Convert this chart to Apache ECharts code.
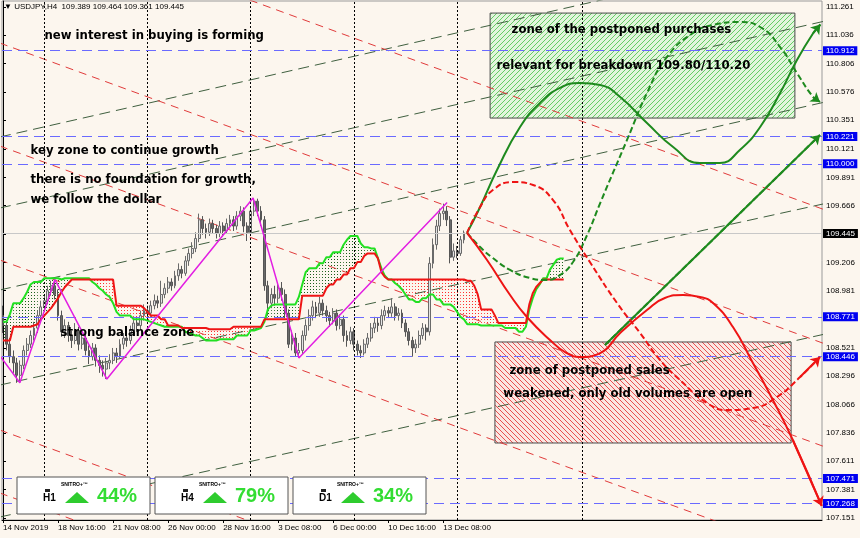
<!DOCTYPE html>
<html><head><meta charset="utf-8">
<script src="https://cdn.jsdelivr.net/npm/echarts@6/dist/echarts.min.js"></script>
<style>html,body{margin:0;padding:0;background:#fcf6ee}#c{width:860px;height:538px}</style>
</head><body><div id="c"></div>
<script>
// ---------- data ----------
const timeTickBars = [0,16,32,48,64,80,96,112,128];
const timeLabels = ['14 Nov 2019','18 Nov 16:00','21 Nov 08:00','26 Nov 00:00','28 Nov 16:00','3 Dec 08:00','6 Dec 00:00','10 Dec 16:00','13 Dec 08:00'];
const priceTicks = [111.261,111.036,110.806,110.576,110.351,110.121,109.891,109.666,109.436,109.206,108.981,108.751,108.521,108.296,108.066,107.836,107.611,107.381,107.151];
// [open, close, low, high], one H4 bar per row
const candles = [
[108.78,108.70,108.64,108.86],[108.70,108.55,108.50,108.74],[108.55,108.45,108.40,108.60],[108.45,108.40,108.32,108.50],[108.40,108.30,108.24,108.44],
[108.30,108.38,108.26,108.42],[108.38,108.50,108.35,108.54],[108.50,108.55,108.46,108.60],[108.55,108.62,108.52,108.66],[108.62,108.68,108.58,108.73],
[108.68,108.78,108.64,108.82],[108.78,108.85,108.74,108.90],[108.85,108.90,108.82,108.95],[108.90,108.98,108.87,109.02],[108.98,109.02,108.94,109.06],
[109.02,108.95,108.91,109.07],[108.95,108.78,108.74,108.99],[108.78,108.65,108.61,108.82],[108.65,108.70,108.60,108.75],[108.70,108.62,108.57,108.73],
[108.62,108.58,108.52,108.66],[108.58,108.66,108.55,108.72],[108.66,108.55,108.50,108.69],[108.55,108.60,108.51,108.64],[108.60,108.50,108.46,108.63],
[108.50,108.45,108.39,108.54],[108.45,108.52,108.42,108.56],[108.52,108.42,108.37,108.55],[108.42,108.38,108.32,108.46],[108.38,108.35,108.29,108.42],
[108.35,108.40,108.27,108.44],[108.40,108.42,108.35,108.47],[108.42,108.48,108.39,108.52],[108.48,108.45,108.40,108.52],[108.45,108.55,108.43,108.59],
[108.55,108.60,108.51,108.64],[108.60,108.58,108.53,108.63],[108.58,108.66,108.55,108.70],[108.66,108.72,108.63,108.77],[108.72,108.70,108.65,108.76],
[108.70,108.78,108.67,108.82],[108.78,108.82,108.74,108.87],[108.82,108.80,108.76,108.86],[108.80,108.86,108.77,108.90],[108.86,108.90,108.83,108.95],
[108.90,108.88,108.84,108.94],[108.88,108.95,108.85,109.06],[108.95,109.00,108.92,109.04],[109.00,109.05,108.96,109.09],[109.05,109.02,108.98,109.08],
[109.02,109.10,109.00,109.14],[109.10,109.15,109.06,109.20],[109.15,109.12,109.08,109.18],[109.12,109.22,109.10,109.26],[109.22,109.28,109.18,109.32],
[109.28,109.32,109.24,109.37],[109.32,109.40,109.29,109.45],[109.40,109.55,109.37,109.60],[109.55,109.48,109.43,109.58],[109.48,109.45,109.40,109.52],
[109.45,109.52,109.42,109.56],[109.52,109.48,109.44,109.55],[109.48,109.44,109.40,109.51],[109.44,109.50,109.41,109.54],[109.50,109.46,109.42,109.53],
[109.46,109.52,109.44,109.56],[109.52,109.55,109.48,109.59],[109.55,109.50,109.46,109.58],[109.50,109.58,109.47,109.62],[109.58,109.62,109.54,109.66],
[109.62,109.50,109.45,109.65],[109.50,109.45,109.38,109.53],[109.45,109.62,109.42,109.66],[109.62,109.70,109.58,109.725],[109.70,109.62,109.58,109.72],
[109.62,109.55,109.50,109.66],[109.55,109.02,108.98,109.58],[109.02,108.88,108.78,109.06],[108.88,108.95,108.84,109.00],[108.95,108.92,108.86,109.02],
[108.92,109.00,108.88,109.04],[109.00,108.95,108.90,109.05],[108.95,108.80,108.76,108.99],[108.80,108.55,108.52,108.83],[108.55,108.60,108.50,108.66],
[108.60,108.48,108.45,108.64],[108.48,108.50,108.44,108.56],[108.50,108.62,108.47,108.66],[108.62,108.70,108.58,108.75],[108.70,108.78,108.66,108.83],
[108.78,108.85,108.74,108.90],[108.85,108.80,108.76,108.89],[108.80,108.88,108.77,108.93],[108.88,108.82,108.78,108.91],[108.82,108.78,108.73,108.86],
[108.78,108.74,108.69,108.81],[108.74,108.80,108.71,108.84],[108.80,108.70,108.66,108.83],[108.70,108.75,108.67,108.79],[108.75,108.62,108.57,108.78],
[108.62,108.58,108.53,108.66],[108.58,108.65,108.55,108.69],[108.65,108.55,108.50,108.68],[108.55,108.50,108.46,108.58],[108.50,108.48,108.44,108.54],
[108.48,108.55,108.46,108.59],[108.55,108.60,108.52,108.64],[108.60,108.68,108.57,108.72],[108.68,108.72,108.64,108.77],[108.72,108.70,108.65,108.76],
[108.70,108.78,108.67,108.83],[108.78,108.82,108.74,108.86],[108.82,108.80,108.76,108.85],[108.80,108.85,108.77,108.92],[108.85,108.78,108.74,108.88],
[108.78,108.80,108.74,108.84],[108.80,108.72,108.68,108.83],[108.72,108.65,108.61,108.75],[108.65,108.58,108.54,108.68],[108.58,108.52,108.45,108.61],
[108.52,108.55,108.48,108.59],[108.55,108.62,108.52,108.66],[108.62,108.68,108.59,108.72],[108.68,108.65,108.58,108.71],[108.65,109.20,108.62,109.25],
[109.20,109.35,109.16,109.40],[109.35,109.50,109.31,109.55],[109.50,109.60,109.46,109.64],[109.60,109.62,109.55,109.68],[109.62,109.55,109.50,109.66],
[109.55,109.25,109.20,109.58],[109.25,109.30,109.22,109.36],[109.30,109.28,109.24,109.34],[109.28,109.39,109.26,109.42],[109.389,109.445,109.361,109.464]
];
// cloud spans, one value per bar (extend 26+ bars ahead)
const spanA = [
108.73,108.73,108.79,108.88,108.88,108.88,108.92,108.97,109.03,109.05,
109.05,109.05,109.08,109.08,109.08,109.08,109.08,109.07,109.08,109.08,
109.08,109.08,109.08,109.08,109.08,109.08,109.05,109.03,109.00,108.98,
108.95,108.93,108.88,108.81,108.78,108.78,108.78,108.78,108.75,108.75,
108.75,108.75,108.74,108.73,108.72,108.71,108.70,108.69,108.69,108.69,
108.69,108.69,108.69,108.65,108.64,108.63,108.62,108.62,108.60,108.58,
108.58,108.58,108.58,108.59,108.59,108.59,108.59,108.59,108.62,108.62,
108.62,108.62,108.66,108.66,108.67,108.68,108.73,108.83,108.86,108.87,
108.87,108.87,108.87,108.87,108.87,108.87,108.93,109.03,109.13,109.16,
109.16,109.16,109.20,109.20,109.25,109.25,109.29,109.29,109.29,109.35,
109.39,109.42,109.42,109.42,109.36,109.33,109.33,109.32,109.32,109.24,
109.16,109.10,109.07,109.07,109.04,109.02,108.99,108.95,108.91,108.91,
108.89,108.89,108.92,108.92,108.95,108.95,108.91,108.91,108.87,108.87,
108.87,108.85,108.81,108.77,108.75,108.71,108.71,108.71,108.71,108.70,
108.70,108.70,108.70,108.70,108.70,108.70,108.68,108.68,108.68,108.68,
108.65,108.65,108.69,108.83,108.92,108.99,109.03,109.08,109.08,109.15,
109.19,109.23,109.24,109.24];
const spanB = [
108.58,108.58,108.58,108.69,108.69,108.69,108.69,108.69,108.69,108.70,
108.71,108.75,108.78,108.81,108.84,108.88,108.92,108.97,109.01,109.04,
109.07,109.07,109.07,109.07,109.07,109.07,109.07,109.07,109.07,109.07,
109.07,109.07,109.07,108.86,108.86,108.86,108.86,108.86,108.86,108.86,
108.86,108.84,108.81,108.78,108.78,108.78,108.75,108.75,108.70,108.70,
108.70,108.70,108.68,108.68,108.68,108.68,108.68,108.68,108.68,108.68,
108.67,108.67,108.67,108.67,108.67,108.67,108.67,108.69,108.69,108.69,
108.69,108.69,108.69,108.69,108.69,108.69,108.75,108.75,108.75,108.75,
108.75,108.75,108.75,108.75,108.75,108.75,108.75,108.94,108.94,108.94,
108.94,108.94,108.94,108.94,109.00,109.03,109.03,109.07,109.07,109.11,
109.11,109.16,109.16,109.21,109.21,109.26,109.28,109.28,109.28,109.24,
109.13,109.09,109.07,109.07,109.07,109.07,109.07,109.07,109.07,109.07,
109.07,109.07,109.07,109.07,109.07,109.07,109.07,109.07,109.07,109.07,
109.07,109.07,109.07,109.07,109.07,109.06,109.06,109.02,108.95,108.83,
108.83,108.83,108.83,108.78,108.72,108.72,108.72,108.72,108.72,108.72,
108.72,108.72,108.72,108.87,108.96,109.01,109.04,109.07,109.07,109.07,
109.07,109.07,109.07,109.07];
const zigzag = [[-1,108.46],[4.9,108.24],[15.1,109.07],[30.2,108.27],[72.7,109.725],[86.0,108.44],[129.1,109.69]];
const levelLines = [110.912,110.221,110.000,108.771,108.446,107.471,107.268];
const lastPrice = 109.445;
const weekSeparators = [12,42,72,102,132];
const markerBar = 168.3;
const riseLines = [
 [[-0.9,110.216],[239,111.727]],[[-0.9,109.645],[239,111.148]],[[-0.9,108.986],[239,110.497]],
 [[-0.9,108.222],[239,109.681]],[[-0.9,107.161],[239,108.632]]];
const fallLines = [
 [[-0.9,112.049],[239,109.629]],[[-0.9,110.971],[239,108.552]],[[-0.9,110.143],[239,107.724]],
 [[-0.9,109.227],[239,106.807]],[[-0.9,107.860],[239,105.441]],[[-0.9,107.354],[239,104.934]]];
const fcGreenSolid = [[134.9,109.445],[138.7,109.653],[143.6,109.950],[150.3,110.296],[156.1,110.489],[161.9,110.610],[167.7,110.650],[173.6,110.634],[179.4,110.537],[187.2,110.328],[194.8,110.135],[202.6,110.007],[208.4,110.007],[214.2,110.111],[220.1,110.296],[225.9,110.569],[230.8,110.835],[235.5,111.05],[237.6,111.12]];
const fcRedSolid = [[134.9,109.445],[140.7,109.227],[147.4,108.946],[152.3,108.769],[159.0,108.584],[163.4,108.487],[167.7,108.447],[173.6,108.479],[179.4,108.640],[187.2,108.825],[192.4,108.922],[197.7,108.946],[202.6,108.930],[206.4,108.881],[212.2,108.688],[218.0,108.399],[223.8,108.102],[229.6,107.780],[238.0,107.25]];
const fcRedDashed = [[134.9,109.445],[138.7,109.653],[142.4,109.790],[148.3,109.854],[154.1,109.830],[159.9,109.709],[164.8,109.468],[170.6,109.211],[178.5,108.881],[185.2,108.640],[191.0,108.423],[196.8,108.262],[204.7,108.077],[210.5,108.021],[218.0,108.037],[225.0,108.126],[231.7,108.286],[237.5,108.447]];
const fcGreenDashed = [[134.9,109.445],[138.7,109.331],[142.4,109.243],[147.4,109.147],[153.2,109.082],[157.6,109.066],[161.9,109.106],[165.7,109.211],[169.8,109.428],[173.6,109.685],[181.4,110.192],[187.2,110.569],[193.0,110.859],[200.6,111.052],[206.4,111.116],[214.2,111.140],[220.1,111.100],[225.9,110.939],[230.8,110.730],[235.5,110.537],[237.5,110.497]];
const fcGreenStraight = [[175.0,108.544],[237.5,110.232]];
const buyZone = [[141.6,111.212],[230.2,110.368]];
const sellZone = [[143.0,108.568],[229.1,107.756]];
const notes = [
 [11.9,111.028,'new interest in buying is forming'],
 [7.85,110.103,'key zone to continue growth'],
 [7.85,109.870,'there is no foundation for growth,'],
 [7.85,109.709,'we follow the dollar'],
 [16.6,108.640,'strong balance zone'],
 [147.7,111.076,'zone of the postponed purchases'],
 [143.3,110.786,'relevant for breakdown 109.80/110.20'],
 [147.1,108.335,'zone of postponed sales'],
 [145.3,108.150,'weakened, only old volumes are open']];
const panelTF = ['H1','H4','D1'];
const panelPct = ['44%','79%','34%'];
const headerText = '\u25BC USDJPY,H4  109.389 109.464 109.361 109.445';

// ---------- helpers ----------
function dots(color){const c=document.createElement('canvas');c.width=3;c.height=3;const x=c.getContext('2d');x.fillStyle=color;x.fillRect(1,1,1,1);return c;}
function hatch(bg,fg,dir){const s=5,c=document.createElement('canvas');c.width=s;c.height=s;const x=c.getContext('2d');x.fillStyle=bg;x.fillRect(0,0,s,s);x.strokeStyle=fg;x.lineWidth=1;x.beginPath();
 if(dir>0){x.moveTo(0,s);x.lineTo(s,0);x.moveTo(-1,1);x.lineTo(1,-1);x.moveTo(s-1,s+1);x.lineTo(s+1,s-1);}
 else{x.moveTo(0,0);x.lineTo(s,s);x.moveTo(s-1,-1);x.lineTo(s+1,1);x.moveTo(-1,s-1);x.lineTo(1,s+1);}
 x.stroke();return c;}
const greenDots = {image:dots('#1a5e1a'),repeat:'repeat'};
const redDots = {image:dots('#ff2a2a'),repeat:'repeat'};

// segments of the cloud: [i, a0, b0, a1, b1]
const cloudSegs = spanA.slice(0,-1).map((a,i)=>[i,a,spanB[i],spanA[i+1],spanB[i+1]]);
function renderCloud(params, api){
 const i=api.value(0),a0=api.value(1),b0=api.value(2),a1=api.value(3),b1=api.value(4);
 const d0=a0-b0,d1=a1-b1;
 const P=(x,y)=>api.coord([x,y]);
 const polys=[];
 if(d0*d1>=0){
  if(d0===0&&d1===0) return null;
  polys.push({pts:[P(i,a0),P(i+1,a1),P(i+1,b1),P(i,b0)],up:(d0+d1)>0});
 } else {
  const t=d0/(d0-d1), xc=i+t, yc=a0+(a1-a0)*t;
  polys.push({pts:[P(i,a0),P(xc,yc),P(i,b0)],up:d0>0});
  polys.push({pts:[P(xc,yc),P(i+1,a1),P(i+1,b1)],up:d1>0});
 }
 return {type:'group',children:polys.map(p=>({type:'polygon',shape:{points:p.pts},style:{fill:p.up?greenDots:redDots,stroke:null}}))};
}
const candleRows = candles.map((d,i)=>[i,d[0],d[1],d[2],d[3]]);

const AX = {fontFamily:'Liberation Sans',fontSize:8,color:'#000'};
function arrowML(pts,color){const n=pts.length;return {silent:true,symbol:['none','arrow'],symbolSize:9,label:{show:false},
 lineStyle:{color:color,width:2,type:'solid'},emphasis:{disabled:true},data:[[{coord:pts[n-2]},{coord:pts[n-1]}]]};}

const series = [];
series.push({type:'custom',data:cloudSegs,renderItem:renderCloud,silent:true,clip:true,z:1});
// zones
series.push({type:'line',data:[],silent:true,z:1,markArea:{silent:true,data:[
 [{coord:buyZone[0],itemStyle:{color:{image:hatch('#e2f5dc','#66cc66',1),repeat:'repeat'},borderColor:'#4a4a4a',borderWidth:1}},{coord:buyZone[1]}],
 [{coord:sellZone[0],itemStyle:{color:{image:hatch('#fbe7e2','#e85050',-1),repeat:'repeat'},borderColor:'#4a4a4a',borderWidth:1}},{coord:sellZone[1]}]
]}});
riseLines.forEach(l=>series.push({type:'line',data:l,symbol:'none',silent:true,z:2,lineStyle:{color:'#3f5f3f',width:1,type:[11,6]}}));
fallLines.forEach(l=>series.push({type:'line',data:l,symbol:'none',silent:true,z:2,lineStyle:{color:'#e03a3a',width:1,type:[8,6]}}));
// horizontal & vertical lines
series.push({type:'line',data:[[0,lastPrice]],symbol:'none',lineStyle:{opacity:0},silent:true,z:3,
 markLine:{silent:true,symbol:'none',animation:false,data:[
  ...weekSeparators.map(v=>({xAxis:v,lineStyle:{color:'#000',width:1,type:[2,2]},label:{show:false}})),
  {xAxis:markerBar,lineStyle:{color:'#000',width:1,type:[2,2]},label:{show:false}},
  {yAxis:lastPrice,lineStyle:{color:'#c8c8c8',width:1,type:'solid'},label:{show:true,position:'end',distance:1,formatter:()=>lastPrice.toFixed(3),backgroundColor:'#000',color:'#fff',padding:[1,3,0,3],fontFamily:'Liberation Sans',fontSize:8}},
  ...levelLines.map(v=>({yAxis:v,lineStyle:{color:'#6a6aff',width:1,type:[10,6]},label:{show:true,position:'end',distance:1,formatter:()=>v.toFixed(3),backgroundColor:'#0000f0',color:'#fff',padding:[1,3,0,3],fontFamily:'Liberation Sans',fontSize:8}}))
 ]}});
series.push({type:'candlestick',data:candleRows,encode:{x:0,y:[1,2,3,4]},barWidth:2.4,silent:true,z:4,
 itemStyle:{color:'#e4e4e4',color0:'#6a6a6a',borderColor:'#6a6a6a',borderColor0:'#555',borderWidth:1}});
series.push({type:'line',data:spanA.map((v,i)=>[i,v]),symbol:'none',silent:true,z:5,lineStyle:{color:'#22e022',width:2}});
series.push({type:'line',data:spanB.map((v,i)=>[i,v]),symbol:'none',silent:true,z:5,lineStyle:{color:'#ee1515',width:2}});
series.push({type:'line',data:zigzag,symbol:'none',silent:true,z:6,lineStyle:{color:'#e21ee2',width:1.5}});
// forecasts
series.push({type:'line',data:fcGreenSolid,smooth:0.5,symbol:'none',silent:true,z:7,lineStyle:{color:'#1e8a1e',width:2},markLine:arrowML(fcGreenSolid,'#1e8a1e')});
series.push({type:'line',data:fcGreenDashed,smooth:0.5,symbol:'none',silent:true,z:7,lineStyle:{color:'#1e8a1e',width:2,type:[6,3]},markLine:arrowML(fcGreenDashed,'#1e8a1e')});
series.push({type:'line',data:fcGreenStraight,symbol:'none',silent:true,z:7,lineStyle:{color:'#1e8a1e',width:2,type:[6,3]},markLine:arrowML(fcGreenStraight,'#1e8a1e')});
series.push({type:'line',data:fcRedSolid,smooth:0.5,symbol:'none',silent:true,z:7,lineStyle:{color:'#ee1414',width:2},markLine:arrowML(fcRedSolid,'#ee1414')});
series.push({type:'line',data:fcRedDashed,smooth:0.5,symbol:'none',silent:true,z:7,lineStyle:{color:'#ee1414',width:2,type:[6,3]},markLine:arrowML(fcRedDashed,'#ee1414')});
// notes
series.push({type:'scatter',data:notes.map(n=>({value:[n[0],n[1]],name:n[2]})),symbolSize:1,itemStyle:{color:'rgba(0,0,0,0)'},silent:true,z:10,
 label:{show:true,position:'right',distance:0,formatter:p=>p.name,fontFamily:'DejaVu Sans',fontWeight:'bold',fontSize:11.7,color:'#000',opacity:1}});

// header + bottom indicator panels
const graphics = [{type:'text',left:4,top:3,style:{text:headerText,fontFamily:'Liberation Sans',fontSize:8,fill:'#000'}}];
const panelLeft = [17,155,293];
panelLeft.forEach((x0,k)=>{
 graphics.push({type:'rect',shape:{x:x0,y:477,width:133,height:37},style:{fill:'#fff',stroke:'#555',lineWidth:1},z:100});
 graphics.push({type:'rect',shape:{x:x0+28,y:489,width:5,height:3},style:{fill:'#222'},z:101});
 graphics.push({type:'text',x:x0+26,y:493,style:{text:panelTF[k],fontFamily:'Liberation Sans',fontWeight:'bold',fontSize:10,fill:'#000'},z:101});
 graphics.push({type:'text',x:x0+44,y:482,style:{text:'SNITRO+\u2122',fontFamily:'Liberation Sans',fontWeight:'bold',fontSize:5,fill:'#000'},z:101});
 graphics.push({type:'polygon',shape:{points:[[x0+48,503],[x0+72,503],[x0+60,492]]},style:{fill:'#2ecc2e'},z:101});
 graphics.push({type:'text',x:x0+80,y:486,style:{text:panelPct[k],fontFamily:'Liberation Sans',fontWeight:'bold',fontSize:20,fill:'#33dd33'},z:101});
});

const chart = echarts.init(document.getElementById('c'));
chart.setOption({
 backgroundColor:'#fcf6ee',animation:false,
 grid:{left:2,right:38,top:1,bottom:18,show:true,borderColor:'#9a9a9a',borderWidth:1,backgroundColor:'transparent'},
 xAxis:{type:'value',min:-0.29,max:238.08,axisLine:{show:true,lineStyle:{color:'#000'}},splitLine:{show:false},
  axisTick:{show:true,customValues:timeTickBars,length:3,lineStyle:{color:'#000'}},
  axisLabel:{customValues:timeTickBars,align:'left',margin:4,formatter:v=>timeLabels[timeTickBars.indexOf(Math.round(v))]||'',...AX}},
 yAxis:{type:'value',position:'right',min:107.137,max:111.309,axisLine:{show:true,lineStyle:{color:'#000'}},splitLine:{show:false},
  axisTick:{show:true,customValues:priceTicks,length:3,lineStyle:{color:'#000'}},
  axisLabel:{customValues:priceTicks,margin:4,formatter:v=>v.toFixed(3),...AX}},
 series:series,
 graphic:graphics
});
</script></body></html>
